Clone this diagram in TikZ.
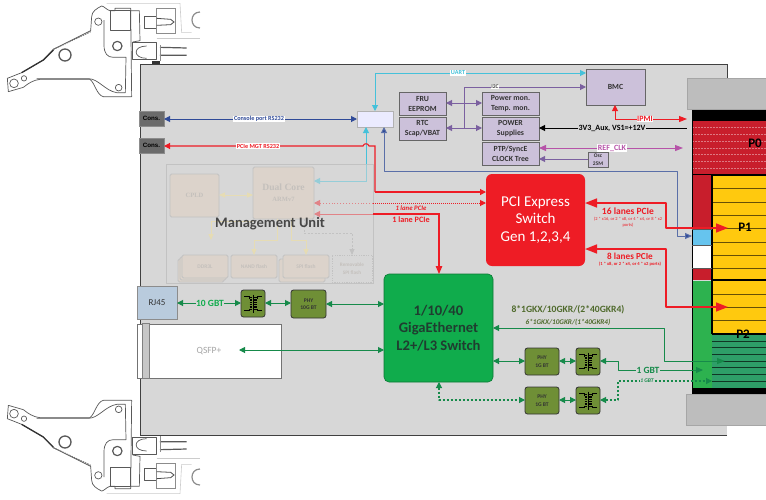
\documentclass[tikz,border=0pt]{standalone}
\usepackage{fontspec}
\setmainfont{Carlito}
\newfontfamily\arialf{Liberation Sans}
\newfontfamily\serif{Liberation Serif}
\usetikzlibrary{arrows.meta,calc}
\definecolor{boardgray}{HTML}{D7D7D7}
\definecolor{capgray}{HTML}{BDBDBD}
\definecolor{lilac}{HTML}{CCC1DA}
\definecolor{purp}{HTML}{7B60A0}
\definecolor{cyanl}{HTML}{45C1DA}
\definecolor{navy}{HTML}{2F4A98}
\definecolor{steel}{HTML}{5A6FA8}
\definecolor{redl}{HTML}{EE1C25}
\definecolor{mag}{HTML}{B653A8}
\definecolor{gl}{HTML}{168A4A}
\definecolor{gsw}{HTML}{10AC4C}
\definecolor{gtxt}{HTML}{1F3D30}
\definecolor{olivebox}{HTML}{6F8F36}
\definecolor{olivetxt}{HTML}{4F6A2C}
\definecolor{pcon}{HTML}{C81E2C}
\definecolor{ycon}{HTML}{FFC90E}
\definecolor{tealc}{HTML}{2E9E68}
\definecolor{gcol}{HTML}{2DB24F}
\definecolor{fadefill}{HTML}{DCD3CB}
\definecolor{fadeline}{HTML}{C2C2C2}
\definecolor{fadey}{HTML}{E6DCB4}
\definecolor{fadetxt}{HTML}{C4C0BC}
\definecolor{rjblue}{HTML}{B9CBDD}
\definecolor{skyc}{HTML}{66C4EE}
\newcommand{\fs}[2]{\fontsize{#1}{#2}\selectfont}
\newcommand{\bx}[7][]{\node[#1,inner sep=0pt,outer sep=0pt,align=center,
  minimum width={(#5-#3)*1pt},minimum height={(#6-#4)*1pt}] (#2) at ({(#3+#5)/2},{(#4+#6)/2}) {#7};}
\newcommand{\lvl}[2]{\coordinate (#1) at #2;}
\tikzset{
  tip/.style={-{Triangle[length=6pt,width=6pt]}},
  tipb/.style={{Triangle[length=6pt,width=6pt]}-{Triangle[length=6pt,width=6pt]}},
  lil/.style={draw=black!60,line width=1pt,fill=lilac,font=\bfseries\fs{7.8}{10}\color{black!80}},
  consbox/.style={draw=black!45,line width=.8pt,fill=black!58,font=\arialf\bfseries\fs{6.2}{7}\color{black}},
  phy/.style={draw=black!80,line width=.8pt,fill=olivebox,rounded corners=2.5pt,font=\bfseries\fs{5.6}{7.5}\color{black!80}},
  faded/.style={draw=fadeline,line width=.8pt,fill=fadefill,rounded corners=1.5pt},
  lab/.style={inner sep=.6pt,fill=white},
  plain/.style={inner sep=0pt},
  fa/.style={fadey,line width=.8pt,-{Triangle[length=6pt,width=5pt]}},
  hand/.style={draw=black!65,line width=.7pt,line join=round}
}
\newcommand{\trafoicon}[1]{%
\begin{scope}[shift={(#1.center)}]
 \draw[black,line width=.8pt] (-9,-7) -- (-4,-7) -- (-4,-5) (-9,7) -- (-4,7) -- (-4,5) (9,-7) -- (4,-7) -- (4,-5) (9,7) -- (4,7) -- (4,5);
 \foreach \yy in {-6,-3.6,-1.2,1.2,3.6,6}{\draw[black,line width=1.3pt] (-3.5,\yy) -- (-.6,\yy) (.6,\yy) -- (3.5,\yy);}
 \draw[black,line width=.8pt] (0,-9) -- (0,9);
\end{scope}}
\newcommand{\handlepart}{%
 \begin{scope}[scale=1/3]
 \draw[hand,fill=white] (22,235) -- (25,275) -- (70,262) .. controls (85,250) and (100,240) .. (120,238) -- (270,238) .. controls (285,250) and (290,285) .. (310,290) -- (395,290) -- (392,25) -- (345,25) -- (345,32) -- (330,32) .. controls (320,30) and (312,18) .. (305,18) .. controls (290,25) and (275,35) .. (275,50) -- (272,92) -- (160,148) -- (130,180) -- (65,218) -- cycle;
 \draw[hand] (312,60) -- (312,135) .. controls (312,160) and (322,172) .. (340,172) -- (378,172) -- (376,278) -- (350,278) .. controls (315,272) and (295,236) .. (265,236) -- (110,236);
 \draw[black!80,line width=1.3pt] (65,218) -- (130,180) -- (160,150);
 \draw[black!55,line width=1.1pt,dash pattern=on 1.5pt off 1pt] (160,148) -- (272,95);
 \draw[hand] (330,32) rectangle (392,90);
 \draw[hand,fill=white] (295,65) circle (11);
 \draw[hand,line width=1.3pt,fill=white] (195,165) circle (18);
 \draw[hand,line width=1.2pt,fill=white] (352,138) circle (14);
 \draw[hand,fill=white] (42,250) circle (13);
 \draw[hand,fill=white] (72,235) circle (8);
 \draw[hand,fill=white] (356,263) circle (10);
 \draw[hand] (392,32) -- (418,32) -- (420,122) -- (398,126);
 \draw[hand] (398,128) rectangle (470,178);
 \draw[hand] (440,138) .. controls (398,138) and (398,175) .. (440,175);
 \draw[black!65,line width=1.2pt] (480,142) -- (560,144) (480,166) -- (560,166);
 \draw[black!45,line width=.6pt] (480,135) -- (480,183);
 \draw[hand] (432,50) rectangle (470,85);
 \draw[black!45,line width=.6pt] (470,25) rectangle (525,100);
 \draw[black!70,line width=.8pt] (470,55) -- (512,58) -- (522,66) -- (512,74) -- (470,76);
 \draw[black!20,line width=.6pt] (320,10) -- (540,10) -- (545,98) -- (575,98);
 \draw[black!45,line width=1.2pt] (600,36) .. controls (568,36) and (568,84) .. (600,84);
 \draw[black!20,line width=.6pt] (470,115) -- (600,115);
 \fill[black!80] (455,183) rectangle (480,192);
 \end{scope}}
\begin{document}
\begin{tikzpicture}[x=1pt,y=-1pt,>=Triangle,line cap=butt]
\useasboundingbox (0,0) rectangle (766,499);
\fill[white] (0,0) rectangle (766,499);
% handles
\handlepart
\begin{scope}[shift={(0,497)},yscale=-1]\handlepart\end{scope}
% board
\fill[boardgray] (140,64) rectangle (727,435);
\draw[black!75,line width=1pt] (727,435) -- (140,435) -- (140,64) -- (727,64) -- (727,78);
% backplane connector
\fill[black] (692,109) rectangle (766,121);
\fill[pcon] (692,121) rectangle (766,174);
\foreach \yy in {127,134,141,148,154,161,168}{\draw[white!40!pcon,line width=.5pt,dash pattern=on 2pt off 1pt] (692,\yy) -- (766,\yy);}
\fill[pcon] (692,174) rectangle (712,280);
\fill[skyc] (692,229) rectangle (712,245);
\fill[white] (692,245) rectangle (712,268);
\fill[gcol] (692,281) rectangle (712,388);
\fill[ycon] (712,175) rectangle (766,334);
\fill[tealc] (712,334) rectangle (766,388);
\foreach \yy in {188,202,215,228,242,255,268,294,307,320}{\draw[black!60!ycon,line width=.6pt] (712,\yy) -- (766,\yy);}
\foreach \yy in {341,347,354,361,367,374,381}{\draw[black!65!tealc,line width=.8pt] (712,\yy) -- (766,\yy);}
\draw[black,line width=1pt] (692,121) -- (692,388);
\draw[black,line width=1pt] (692,174) -- (766,174);
\draw[black,line width=1.2pt] (712,174) -- (712,334);
\draw[black,line width=1.2pt] (712,175) -- (766,175) (712,280) -- (766,280) (712,334) -- (766,334);
\draw[black!65,line width=.8pt] (692,229) -- (712,229) (692,245) -- (712,245) (692,268) -- (712,268);
\fill[black] (692,388) rectangle (766,394);
\fill[capgray,draw=black!35,line width=.8pt] (687,78) rectangle (767,109);
\fill[capgray,draw=black!35,line width=.8pt] (686,394) rectangle (767,425);
\node[plain,font=\bfseries\fs{13}{15}] (p0) at (755,143) {P0};
% level coordinates
\lvl{y73}{(0,73)} \lvl{y87}{(0,87)} \lvl{y103}{(0,103)} \lvl{y119}{(0,119)} \lvl{y128}{(0,128)}
\lvl{y146}{(0,146)} \lvl{y148}{(0,148)} \lvl{y159}{(0,159)} \lvl{y171}{(0,171)} \lvl{y181}{(0,181)}
\lvl{y192}{(0,192)} \lvl{y195}{(0,195)} \lvl{y203}{(0,203)} \lvl{y214}{(0,214)} \lvl{y228}{(0,228)} \lvl{y236}{(0,236)}
\lvl{y249}{(0,249)} \lvl{y303}{(0,303)} \lvl{y304}{(0,304)} \lvl{y307}{(0,307)} \lvl{y328}{(0,328)} \lvl{y350}{(0,350)}
\lvl{y361}{(0,361)} \lvl{y370}{(0,370)} \lvl{y381}{(0,381)} \lvl{y400}{(0,400)}
\lvl{x366}{(366,0)} \lvl{x375}{(375,0)} \lvl{x384}{(384,0)} \lvl{x439}{(439,0)} \lvl{x464}{(464,0)} \lvl{x615}{(615,0)}
\lvl{x618}{(618,0)} \lvl{x664}{(664,0)} \lvl{x666}{(666,0)} \lvl{x677}{(677,0)}
\coordinate (ipmiend) at (687,119);
\coordinate (vsend) at (687,128);
\coordinate (refend) at (683,148);
\coordinate (p1a) at (728,228);
\coordinate (p1b) at (728,307);
\coordinate (p2a) at (725,361);
\coordinate (gbtend) at (703,370);
\coordinate (gbtdash) at (712,381);
\coordinate (bluend) at (692,236);
\coordinate (qsfpin) at (239,350);
% management unit
\bx[draw=fadeline,line width=.8pt]{mgmt}{166}{164}{373}{283}{}
\bx[faded,font=\serif\bfseries\fs{6.5}{8}\color{fadetxt}]{cpld}{170}{174}{219}{217}{CPLD}
\bx[faded]{dual}{253}{167}{314}{219}{\serif\bfseries\fs{9.6}{11}\color{fadetxt}Dual Core\\[-1pt]\serif\bfseries\fs{6.5}{9}\color{fadetxt}ARMv7}
\draw[faded] (178,259) rectangle (224,282);
\draw[faded] (180,257) rectangle (226,280);
\bx[faded,font=\bfseries\fs{5.5}{7}\color{fadetxt}]{ddr}{182}{255}{228}{278}{DDR3L}
\bx[faded,font=\bfseries\fs{5.5}{7}\color{fadetxt}]{nand}{231}{255}{277}{278}{NAND flash}
\draw[faded] (279,259) rectangle (325,282);
\bx[faded,font=\bfseries\fs{5.5}{7}\color{fadetxt}]{spi}{283}{255}{329}{278}{SPI flash}
\bx[draw=fadeline,line width=.8pt,dash pattern=on 1.2pt off 1.2pt,font=\bfseries\fs{5.2}{7.5}\color{fadetxt}]{rem}{332}{255}{372}{282}{Removable\\SPI flash}
\draw[fadey,line width=.9pt,{Triangle[length=6pt,width=5pt]}-{Triangle[length=6pt,width=5pt]}] (cpld.east |- y195) -- (dual.west |- y195);
\draw[fa] (253,221) -- (211,221) -- (211,240);
\draw[fa] (277,219) -- (277,240) -- (254,240) -- (nand.north);
\draw[fa] (291,219) -- (291,240) -- (306,240) -- (spi.north);
\draw[line width=.8pt,fadeline,dash pattern=on 2pt off 1.5pt,-{Triangle[length=6pt,width=5pt]}] (304,219) -- (304,233) -- (352,233) -- (rem.north);
\node[plain,font=\bfseries\fs{14.5}{18}\color{black!72}] (mu) at (270,224) {Management Unit};
% other boxes
\bx[consbox]{cons1}{139}{111}{164}{126}{Cons.}
\bx[consbox]{cons2}{139}{138}{164}{153}{Cons.}
\bx[draw=black!30,line width=.8pt,fill=blue!8!white]{uni}{357}{111}{393}{127}{}
\bx[lil]{fru}{399}{92}{446}{115}{FRU\\EEPROM}
\bx[lil]{rtc}{399}{117}{446}{140}{RTC\\Scap/VBAT}
\bx[lil]{pmon}{482}{92}{539}{115}{Power mon.\\Temp. mon.}
\bx[lil]{pow}{482}{117}{539}{140}{POWER\\Supplies}
\bx[lil]{ptp}{482}{142}{539}{165}{PTP/SyncE\\CLOCK Tree}
\bx[lil]{bmc}{586}{69}{645}{105}{BMC}
\bx[lil,font=\bfseries\fs{5.5}{7.5}\color{black!80}]{osc}{588}{152}{608}{167}{Osc\\25M}
\bx[fill=redl,rounded corners=6pt,font=\fs{15}{17.3}\color{white}]{pci}{486}{174}{585}{266}{PCI Express\\Switch\\Gen 1,2,3,4}
\bx[fill=gsw,draw=gsw!70!black,line width=.6pt,rounded corners=5pt,font=\bfseries\fs{14.6}{17.3}\color{gtxt}]{giga}{384}{274}{493}{382}{1/10/40\\GigaEthernet\\L2+/L3 Switch}
\bx[fill=rjblue,draw=black!45,line width=.8pt,font=\fs{9}{10}\color{black!80}]{rj}{137}{286}{177}{319}{RJ45}
\bx[fill=white,draw=black!55,line width=.7pt,font=\fs{9.5}{10}\color{black!35}]{qsfp}{137}{324}{281}{378}{QSFP+}
\bx[fill=black!22,draw=black!50,line width=.8pt]{qtab}{142}{323}{149}{378}{}
\bx[phy]{tr0}{241}{290}{265}{317}{} \trafoicon{tr0}
\bx[phy]{phy0}{291}{290}{326}{318}{PHY\\10G BT}
\bx[phy]{phya}{525}{348}{559}{375}{PHY\\1G BT}
\bx[phy]{tra}{576}{348}{600}{375}{} \trafoicon{tra}
\bx[phy]{phyb}{525}{387}{559}{414}{PHY\\1G BT}
\bx[phy]{trb}{576}{387}{600}{414}{} \trafoicon{trb}
\node[plain,font=\bfseries\fs{13}{15}] (p1) at (745,227) {P1};
\node[plain,font=\bfseries\fs{13}{15}] (p2) at (743,334) {P2};
% blue
\draw[navy,line width=1pt,tipb] (cons1.east |- y119) -- (uni.west |- y119);
\node[lab,font=\bfseries\fs{6.2}{7}\color{navy}] (lcons) at (259,119) {Console port RS232};
\draw[steel,line width=1pt,{Triangle[length=6pt,width=6pt,fill=navy]}-{Triangle[length=7pt,width=6pt,fill=navy]},line join=round] (x384 |- uni.south) -- (x384 |- y171) -- (x677 |- y171) -- (x677 |- y236) -- (bluend);
% cyan
\draw[cyanl!45!boardgray,line width=1pt,-{Triangle[length=6pt,width=6pt]}] (x366 |- mgmt.north) -- (x366 |- y181) -- (dual.east |- y181);
\draw[cyanl,line width=1pt,tip] (x366 |- mgmt.north) -- (x366 |- uni.south);
\draw[cyanl,line width=1pt,tipb] (x375 |- uni.north) -- (x375 |- y73) -- (bmc.west |- y73);
\node[lab,font=\bfseries\fs{6.2}{7}\color{cyanl}] (luart) at (458,73) {UART};
% purple
\draw[purp,line width=1pt,tipb] (fru.east |- y103) -- (pmon.west |- y103);
\draw[purp,line width=1pt,tipb] (rtc.east |- y128) -- (pow.west |- y128);
\draw[purp,line width=1pt,tip] (x464 |- y128) -- (x464 |- y87) -- (bmc.west |- y87);
\node[lab,font=\bfseries\fs{5.5}{6}\color{black!75}] (li2c) at (495,87) {I2C};
\draw[purp,line width=1pt,tip] (osc.west |- y159) -- (ptp.east |- y159);
% magenta
\draw[mag,line width=1pt,{Triangle[length=7pt,width=6pt]}-{Triangle[length=8pt,width=6pt]}] (ptp.east |- y148) -- (refend);
\node[lab,font=\bfseries\fs{8}{9}\color{mag}] (lref) at (612,148) {REF\_CLK};
% black
\draw[black,line width=1pt,{Triangle[length=6pt,width=6pt]}-] (pow.east |- y128) -- (vsend);
\node[lab,font=\bfseries\fs{8}{9}\color{black},fill=boardgray] (lvs) at (612,128) {3V3\_Aux, VS1=+12V};
% IPMI
\draw[redl,line width=1pt,{Triangle[length=6pt,width=6pt]}-{Triangle[length=8pt,width=6pt]}] (x615 |- bmc.south) -- (x615 |- ipmiend) -- (ipmiend);
\node[lab,font=\bfseries\fs{8}{9}\color{redl}] (lipmi) at (645,119) {IPMI};
% red management
\draw[redl,line width=1.1pt,tip] (375,192) -- (375,146) -- (369,146) .. controls (368,143) and (364,143) .. (363,146) -- (cons2.east |- y146);
\draw[redl,line width=1.1pt,tip] (x375 |- y192) -- (pci.west |- y192);
\node[lab,font=\bfseries\fs{6.2}{7}\color{redl}] (lmgt) at (258,146) {PCIe MGT RS232};
\draw[redl!45!boardgray,line width=.9pt,dotted,-{Triangle[length=6pt,width=6pt]}] (mgmt.east |- y203) -- (dual.east |- y203);
\draw[redl,line width=1pt,dash pattern=on 1.2pt off .8pt,tip] (mgmt.east |- y203) -- (pci.west |- y203);
\draw[redl!45!boardgray,line width=1pt,-{Triangle[length=6pt,width=6pt]}] (mgmt.east |- y214) -- (dual.east |- y214);
\draw[redl,line width=1.1pt,-{Triangle[length=8pt,width=6.5pt]}] (mgmt.east |- y214) -- (x439 |- y214) -- (x439 |- giga.north);
\node[plain,font=\bfseries\itshape\fs{6.8}{8}\color{redl}] (l1a) at (411,208) {1 lane PCIe};
\node[plain,font=\bfseries\fs{8.2}{9}\color{redl}] (l1b) at (411,219.5) {1 lane PCIe};
% PCIe lanes
\draw[redl,line width=1.5pt,{Triangle[length=12pt,width=9pt]}-{Triangle[length=12pt,width=9pt]},line join=round] (pci.east |- y203) -- (x666 |- y203) -- (x666 |- y228) -- (p1a);
\draw[redl,line width=1.5pt,{Triangle[length=12pt,width=9pt]}-{Triangle[length=12pt,width=9pt]},line join=round] (pci.east |- y249) -- (x666 |- y249) -- (x666 |- y307) -- (p1b);
\node[plain,font=\bfseries\fs{9.5}{11}\color{redl}] (l16) at (628,211) {16 lanes PCIe};
\node[plain,align=center,font=\fs{4.5}{6}\color{redl}] (l16s) at (628,222.5) {(2 * x16, or 2 * x8, or 4 * x4, or 8 * x2\\ports)};
\node[plain,font=\bfseries\fs{9.2}{11}\color{redl}] (l8) at (630,256) {8 lanes PCIe};
\node[plain,font=\bfseries\fs{4.6}{5}\color{redl}] (l8s) at (630,264.5) {(1 * x8, or 2 * x4, or 4 * x2 ports)};
% green
\draw[gl,line width=1pt,tipb] (rj.east |- y303) -- (tr0.west |- y303);
\node[lab,font=\bfseries\fs{9.5}{10}\color{gsw},fill=boardgray] (l10g) at (210,303) {10 GBT};
\draw[gl,line width=1pt,tipb] (tr0.east |- y303) -- (phy0.west |- y303);
\draw[gl,line width=1pt,tipb] (phy0.east |- y304) -- (giga.west |- y304);
\draw[gl,line width=1pt,tipb] (qsfpin) -- (giga.west |- y350);
\draw[gl,line width=1pt,{Triangle[length=6pt,width=6pt]}-{Triangle[length=8pt,width=6pt]},line join=round] (giga.east |- y328) -- (x664 |- y328) -- (x664 |- y361) -- (p2a);
\node[plain,font=\bfseries\fs{9.6}{11}\color{olivetxt}] (l8g) at (568,310) {8*1GKX/10GKR/(2*40GKR4)};
\node[plain,font=\bfseries\itshape\fs{7.2}{8}\color{olivetxt}] (l6g) at (568,322) {6*1GKX/10GKR/(1*40GKR4)};
\draw[gl,line width=1pt,tipb] (giga.east |- y361) -- (phya.west |- y361);
\draw[gl,line width=1pt,tipb] (phya.east |- y361) -- (tra.west |- y361);
\draw[gl,line width=1pt,{Triangle[length=6pt,width=6pt]}-{Triangle[length=7pt,width=6pt]},line join=round] (tra.east |- y361) -- (x618 |- y361) -- (x618 |- y370) -- (gbtend);
\node[lab,font=\bfseries\fs{9.5}{10}\color{gl},fill=boardgray] (l1g) at (648,370) {1 GBT};
\draw[gl,line width=1.1pt,dash pattern=on 2.2pt off 1.8pt,{Triangle[length=6pt,width=6pt]}-{Triangle[length=6pt,width=6pt]},line join=round] (trb.east |- y400) -- (x618 |- y400) -- (x618 |- y381) -- (gbtdash);
\node[lab,font=\bfseries\itshape\fs{5.6}{6}\color{gl},fill=boardgray] (l1gd) at (647,381) {1 GBT};
\draw[gl,line width=1pt,tipb] (phyb.east |- y400) -- (trb.west |- y400);
\draw[gl,line width=1.1pt,dash pattern=on 2.2pt off 1.8pt,{Triangle[length=6pt,width=6pt]}-{Triangle[length=6pt,width=6pt]},line join=round] (x439 |- giga.south) -- (x439 |- y400) -- (phyb.west |- y400);
\end{tikzpicture}
\end{document}
